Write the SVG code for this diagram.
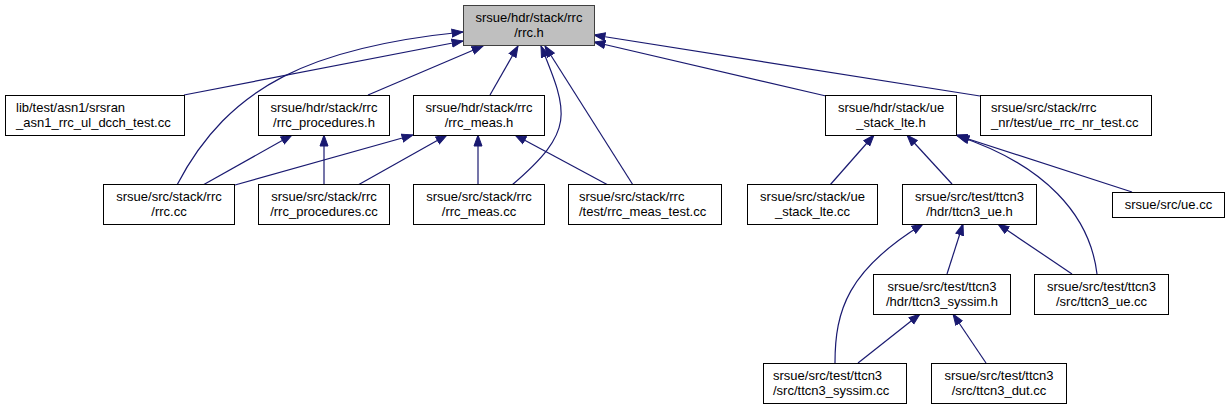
<svg xmlns="http://www.w3.org/2000/svg" width="1229" height="409" viewBox="0 0 1229 409">
<style>
.n rect{fill:#ffffff;stroke:#000000;stroke-width:1}
#root rect{fill:#bfbfbf;stroke:#404040}
.n text{font-family:"Liberation Sans",Arial,sans-serif;font-size:13px;fill:#000000}
.c{text-anchor:middle}
#edges path{fill:none;stroke:#191970;stroke-width:1.2;marker-end:url(#a)}
</style>
<defs>
<marker id="a" markerUnits="userSpaceOnUse" markerWidth="13" markerHeight="10" refX="11.5" refY="5" orient="auto" viewBox="0 0 13 10">
<path d="M0.5,1 L11.5,5 L0.5,9 z" fill="#191970" stroke="#191970" stroke-width="1"/>
</marker>
</defs>
<rect width="1229" height="409" fill="#ffffff"/>
<g id="edges">
<path d="M184,95 L463,41"/>
<path d="M177,185 C229,85 313,47 463,32"/>
<path d="M368,95 L483,46"/>
<path d="M490,95 L518,46"/>
<path d="M512,185 C575,131 569,114 541,46"/>
<path d="M633,185 L545,46"/>
<path d="M826,96 L594,42"/>
<path d="M980,96 L594,35"/>
<path d="M203,185 L292,135"/>
<path d="M235,185 L413,135"/>
<path d="M324,185 L324,135"/>
<path d="M358,185 L447,135"/>
<path d="M478,185 L478,135"/>
<path d="M608,185 L515,135"/>
<path d="M830,185 L874,135"/>
<path d="M952,184 L907,135"/>
<path d="M1132,192 L956,135"/>
<path d="M1097,274 C1090,215 1045,165 958,136"/>
<path d="M835,363 C835,310 848,270 923,224"/>
<path d="M947,274 L963,224"/>
<path d="M1072,274 L998,224"/>
<path d="M858,363 L920,314"/>
<path d="M986,363 L953,314"/>
</g>
<g id="root" class="n"><rect x="463.5" y="5.5" width="131" height="40"/><text class="c" x="529" y="22">srsue/hdr/stack/rrc</text><text class="c" x="529" y="37">/rrc.h</text></g>
<g id="asn1_test" class="n"><rect x="5.5" y="95.5" width="179" height="40"/><text x="16" y="111.5">lib/test/asn1/srsran</text><text x="16" y="126.5">_asn1_rrc_ul_dcch_test.cc</text></g>
<g id="rrc_procedures_h" class="n"><rect x="258.5" y="95.5" width="131" height="40"/><text class="c" x="324" y="111.5">srsue/hdr/stack/rrc</text><text class="c" x="324" y="126.5">/rrc_procedures.h</text></g>
<g id="rrc_meas_h" class="n"><rect x="413.5" y="95.5" width="131" height="40"/><text class="c" x="479" y="111.5">srsue/hdr/stack/rrc</text><text class="c" x="479" y="126.5">/rrc_meas.h</text></g>
<g id="ue_stack_lte_h" class="n"><rect x="825.5" y="95.5" width="131" height="40"/><text class="c" x="891" y="111.5">srsue/hdr/stack/ue</text><text class="c" x="891" y="126.5">_stack_lte.h</text></g>
<g id="ue_rrc_nr_test" class="n"><rect x="980.5" y="95.5" width="171" height="40"/><text x="991" y="111.5">srsue/src/stack/rrc</text><text x="991" y="126.5">_nr/test/ue_rrc_nr_test.cc</text></g>
<g id="rrc_cc" class="n"><rect x="103.5" y="184.5" width="131" height="40"/><text class="c" x="169" y="200.5">srsue/src/stack/rrc</text><text class="c" x="169" y="215.5">/rrc.cc</text></g>
<g id="rrc_procedures_cc" class="n"><rect x="258.5" y="184.5" width="131" height="40"/><text class="c" x="324" y="200.5">srsue/src/stack/rrc</text><text class="c" x="324" y="215.5">/rrc_procedures.cc</text></g>
<g id="rrc_meas_cc" class="n"><rect x="413.5" y="184.5" width="131" height="40"/><text class="c" x="479" y="200.5">srsue/src/stack/rrc</text><text class="c" x="479" y="215.5">/rrc_meas.cc</text></g>
<g id="rrc_meas_test" class="n"><rect x="568.5" y="184.5" width="153" height="40"/><text x="579" y="200.5">srsue/src/stack/rrc</text><text x="579" y="215.5">/test/rrc_meas_test.cc</text></g>
<g id="ue_stack_lte_cc" class="n"><rect x="747.5" y="184.5" width="130" height="40"/><text class="c" x="812.5" y="200.5">srsue/src/stack/ue</text><text class="c" x="812.5" y="215.5">_stack_lte.cc</text></g>
<g id="ttcn3_ue_h" class="n"><rect x="902.5" y="184.5" width="134" height="40"/><text class="c" x="969.5" y="200.5">srsue/src/test/ttcn3</text><text class="c" x="969.5" y="215.5">/hdr/ttcn3_ue.h</text></g>
<g id="ue_cc" class="n"><rect x="1112.5" y="192.5" width="112" height="25"/><text class="c" x="1168.5" y="209">srsue/src/ue.cc</text></g>
<g id="ttcn3_syssim_h" class="n"><rect x="873.5" y="274.5" width="137" height="40"/><text class="c" x="942" y="290.5">srsue/src/test/ttcn3</text><text class="c" x="942" y="305.5">/hdr/ttcn3_syssim.h</text></g>
<g id="ttcn3_ue_cc" class="n"><rect x="1034.5" y="274.5" width="134" height="40"/><text class="c" x="1101.5" y="290.5">srsue/src/test/ttcn3</text><text class="c" x="1101.5" y="305.5">/src/ttcn3_ue.cc</text></g>
<g id="ttcn3_syssim_cc" class="n"><rect x="763.5" y="363.5" width="143" height="40"/><text x="773" y="379.5">srsue/src/test/ttcn3</text><text x="773" y="394.5">/src/ttcn3_syssim.cc</text></g>
<g id="ttcn3_dut_cc" class="n"><rect x="931.5" y="363.5" width="135" height="40"/><text class="c" x="999" y="379.5">srsue/src/test/ttcn3</text><text class="c" x="999" y="394.5">/src/ttcn3_dut.cc</text></g>
</svg>
